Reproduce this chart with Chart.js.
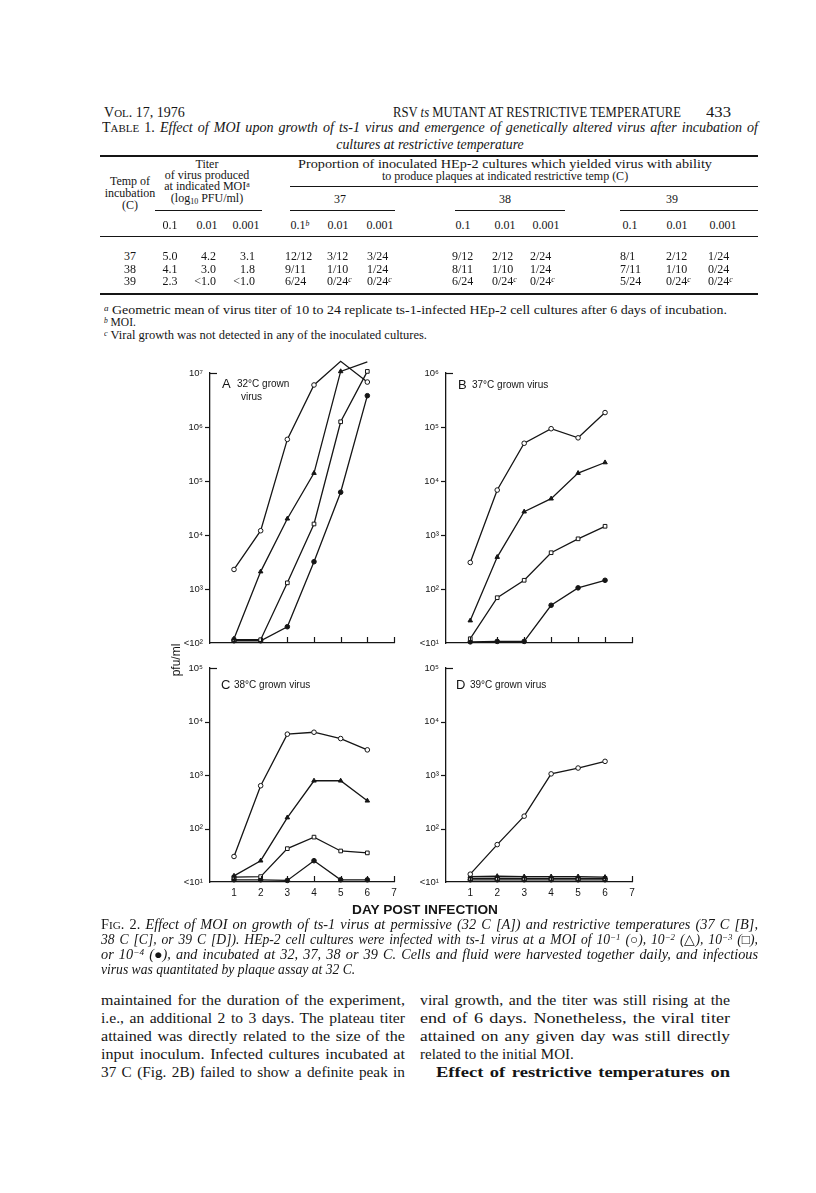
<!DOCTYPE html>
<html><head><meta charset="utf-8">
<script src="https://cdn.jsdelivr.net/npm/chart.js@4.4.0/dist/chart.umd.min.js"></script>
<style>
body{margin:0;width:816px;height:1193px;background:#fff;position:relative;overflow:hidden;font-family:"Liberation Serif",serif;color:#151515}
.t{position:absolute;white-space:nowrap;line-height:1;}
.s{font-family:"Liberation Sans",Arial,sans-serif}
.sc{font-size:0.78em}
.r{position:absolute;background:#151515}
.sp{font-size:0.65em;position:relative;top:-0.45em}
canvas{position:absolute}
</style></head><body>

<!-- running header -->
<div class="t" style="left:104px;top:106px;font-size:14px" data-w="81">V<span class="sc">OL</span>. 17, 1976</div>
<div class="t" style="left:393px;top:106px;font-size:14px" data-w="288">RSV <i>ts</i> MUTANT AT RESTRICTIVE TEMPERATURE</div>
<div class="t" style="left:706px;top:105px;font-size:15px" data-w="25">433</div>

<!-- table title -->
<div class="t" style="left:102px;top:121px;font-size:13.8px" data-w="656" data-j>T<span class="sc">ABLE</span> 1. <i>Effect of MOI upon growth of ts-1 virus and emergence of genetically altered virus after incubation of</i></div>
<div class="t" style="top:138px;font-size:13.8px" data-cx="430"><i>cultures at restrictive temperature</i></div>

<div class="r" style="left:100px;top:155px;width:658px;height:1.6px"></div>

<div class="t" style="top:158px;font-size:12px" data-cx="207">Titer</div>
<div class="t" style="top:169px;font-size:12px" data-cx="207">of virus produced</div>
<div class="t" style="top:180px;font-size:12px" data-cx="207">at indicated MOI<span class="sp">a</span></div>
<div class="t" style="top:192px;font-size:12px" data-cx="207">(log<span style="font-size:8px;position:relative;top:2px">10</span> PFU/ml)</div>
<div class="t" style="top:175px;font-size:12px" data-cx="130">Temp of</div>
<div class="t" style="top:187px;font-size:12px" data-cx="130">incubation</div>
<div class="t" style="top:199px;font-size:12px" data-cx="130">(C)</div>
<div class="t" style="top:158px;font-size:12px" data-cx="505" data-w="414">Proportion of inoculated HEp-2 cultures which yielded virus with ability</div>
<div class="t" style="top:170px;font-size:12px" data-cx="505">to produce plaques at indicated restrictive temp (C)</div>
<div class="r" style="left:290px;top:186px;width:468px;height:1px"></div>
<div class="t" style="top:193px;font-size:12px" data-cx="340">37</div>
<div class="t" style="top:193px;font-size:12px" data-cx="505">38</div>
<div class="t" style="top:193px;font-size:12px" data-cx="672">39</div>
<div class="r" style="left:155px;top:210px;width:107px;height:1px"></div>
<div class="r" style="left:290px;top:210px;width:105px;height:1px"></div>
<div class="r" style="left:455px;top:210px;width:110px;height:1px"></div>
<div class="r" style="left:620px;top:210px;width:138px;height:1px"></div>

<div class="r" style="left:100px;top:236px;width:658px;height:1.2px"></div>
<div class="r" style="left:100px;top:293px;width:658px;height:1.6px"></div>

<div class="t" style="left:104px;top:305px;font-size:11.5px" data-w="623"><span class="sp"><i>a</i></span> Geometric mean of virus titer of 10 to 24 replicate ts-1-infected HEp-2 cell cultures after 6 days of incubation.</div>
<div class="t" style="left:104px;top:317px;font-size:11.5px"><span class="sp"><i>b</i></span> MOI.</div>
<div class="t" style="left:104px;top:330px;font-size:11.5px" data-w="323"><span class="sp"><i>c</i></span> Viral growth was not detected in any of the inoculated cultures.</div>

<!-- figure -->
<canvas id="cA" width="260" height="315" style="left:150px;top:345px"></canvas>
<canvas id="cB" width="260" height="315" style="left:386px;top:345px"></canvas>
<canvas id="cC" width="260" height="260" style="left:150px;top:650px"></canvas>
<canvas id="cD" width="260" height="260" style="left:386px;top:650px"></canvas>

<div class="t s" style="left:222px;top:377px;font-size:13px">A</div>
<div class="t s" style="left:237px;top:379px;font-size:10px">32°C grown</div>
<div class="t s" style="left:241px;top:392px;font-size:10px">virus</div>
<div class="t s" style="left:458px;top:378px;font-size:13px">B</div>
<div class="t s" style="left:472px;top:380px;font-size:10px">37°C grown virus</div>
<div class="t s" style="left:221px;top:678px;font-size:13px">C</div>
<div class="t s" style="left:234px;top:680px;font-size:10px">38°C grown virus</div>
<div class="t s" style="left:456px;top:678px;font-size:13px">D</div>
<div class="t s" style="left:470px;top:680px;font-size:10px">39°C grown virus</div>

<div class="t s" style="left:156px;top:654px;font-size:12px;width:40px;text-align:center;transform:rotate(-90deg)" data-rot>pfu/ml</div>
<div class="t s" style="top:903px;font-size:13px;font-weight:bold" data-cx="425" data-w="146">DAY POST INFECTION</div>

<!-- caption -->
<div class="t" style="left:101px;top:918px;font-size:13.6px" data-w="657" data-j>F<span class="sc">IG</span>. 2. <i>Effect of MOI on growth of ts-1 virus at permissive (32 C [A]) and restrictive temperatures (37 C [B],</i></div>
<div class="t" style="left:101px;top:933px;font-size:13.6px" data-w="657" data-j><i>38 C [C], or 39 C [D]). HEp-2 cell cultures were infected with ts-1 virus at a MOI of 10<span class="sp">−1</span> (</i>○<i>), 10<span class="sp">−2</span> (</i>△<i>), 10<span class="sp">−3</span> (</i>□<i>),</i></div>
<div class="t" style="left:101px;top:948px;font-size:13.6px" data-w="657" data-j><i>or 10<span class="sp">−4</span> (</i>●<i>), and incubated at 32, 37, 38 or 39 C. Cells and fluid were harvested together daily, and infectious</i></div>
<div class="t" style="left:101px;top:963px;font-size:13.6px"><i>virus was quantitated by plaque assay at 32 C.</i></div>

<!-- body text -->
<div class="t" style="left:101px;top:993px;font-size:15px" data-w="304" data-j>maintained for the duration of the experiment,</div>
<div class="t" style="left:101px;top:1011px;font-size:15px" data-w="304" data-j>i.e., an additional 2 to 3 days. The plateau titer</div>
<div class="t" style="left:101px;top:1029px;font-size:15px" data-w="304" data-j>attained was directly related to the size of the</div>
<div class="t" style="left:101px;top:1047px;font-size:15px" data-w="304" data-j>input inoculum. Infected cultures incubated at</div>
<div class="t" style="left:101px;top:1065px;font-size:15px" data-w="304" data-j>37 C (Fig. 2B) failed to show a definite peak in</div>
<div class="t" style="left:420px;top:993px;font-size:15px" data-w="310" data-j>viral growth, and the titer was still rising at the</div>
<div class="t" style="left:420px;top:1011px;font-size:15px" data-w="310" data-j>end of 6 days. Nonetheless, the viral titer</div>
<div class="t" style="left:420px;top:1029px;font-size:15px" data-w="310" data-j>attained on any given day was still directly</div>
<div class="t" style="left:420px;top:1047px;font-size:15px">related to the initial MOI.</div>
<div class="t" style="left:436px;top:1065px;font-size:15px;font-weight:bold" data-w="294" data-j>Effect of restrictive temperatures on</div>

<script>
// ---------- table data ----------
const colHeads = ['0.1','0.01','0.001','0.1','0.01','0.001','0.1','0.01','0.001','0.1','0.01','0.001'];
const colHeadX = [170,207,246,300,338,380,463,505,546,630,677,723];
const incubTemps = ['37','38','39'];
const titer01 = ['5.0','4.1','2.3'];
const titer001 = ['4.2','3.0','<1.0'];
const titer0001 = ['3.1','1.8','<1.0'];
const p37 = [['12/12','3/12','3/24'],['9/11','1/10','1/24'],['6/24','0/24c','0/24c']];
const p38 = [['9/12','2/12','2/24'],['8/11','1/10','1/24'],['6/24','0/24c','0/24c']];
const p39 = [['8/1','2/12','1/24'],['7/11','1/10','0/24'],['5/24','0/24c','0/24c']];

// ---------- figure data (pfu/ml) ----------
const days = [1,2,3,4,5,6];
const xTickDays = [1,2,3,4,5,6,7];
// A: 32°C grown virus
const A_moi1 = [2.3e3, 1.2e4, 5.9e5, 6.0e6, 1.65e7, 6.8e6];
const A_moi2 = [1.2e2, 2.1e3, 2.0e4, 1.4e5, 1.07e7, 1.6e7];
const A_moi3 = [1.15e2, 1.15e2, 1.3e3, 1.6e4, 1.25e6, 1.07e7];
const A_moi4 = [1.1e2, 1.1e2, 2.0e2, 3.2e3, 6.2e4, 3.8e6];
// B: 37°C grown virus
const B_moi1 = [3.1e2, 6.8e3, 5.0e4, 9.3e4, 6.3e4, 1.85e5];
const B_moi2 = [26, 3.9e2, 2.7e3, 4.7e3, 1.4e4, 2.2e4];
const B_moi3 = [12, 69, 1.45e2, 4.7e2, 8.5e2, 1.45e3];
const B_moi4 = [10.5, 10.7, 10.7, 50, 1.05e2, 1.45e2];
// C: 38°C grown virus
const C_moi1 = [30, 6.3e2, 5.8e3, 6.3e3, 4.8e3, 2.95e3];
const C_moi2 = [13, 25, 1.6e2, 7.8e2, 7.8e2, 3.3e2];
const C_moi3 = [12.3, 12.6, 42, 69, 38, 35];
const C_moi4 = [11, 11, 10.7, 25, 11, 11];
// D: 39°C grown virus
const D_moi1 = [14, 50, 1.7e2, 1.05e3, 1.35e3, 1.8e3];
const D_moi2 = [12.6, 12.8, 12.6, 12.6, 12.6, 12.3];
const D_moi3 = [11.7, 11.7, 11.7, 11.7, 11.7, 11.7];
const D_moi4 = [11, 11, 11, 11, 11, 11];

const yTicks_A = [1e2,1e3,1e4,1e5,1e6,1e7];
const yLabels_A = ['<10²','10³','10⁴','10⁵','10⁶','10⁷'];
const yTicks_B = [1e1,1e2,1e3,1e4,1e5,1e6];
const yLabels_B = ['<10¹','10²','10³','10⁴','10⁵','10⁶'];
const yTicks_CD = [1e1,1e2,1e3,1e4,1e5];
const yLabels_CD = ['<10¹','10²','10³','10⁴','10⁵'];

// ---------- build table ----------
function addText(html, opts){
  const d=document.createElement('div'); d.className='t'; d.innerHTML=html;
  d.style.fontSize=(opts.fs||12)+'px'; d.style.top=opts.top+'px';
  if(opts.left!==undefined) d.style.left=opts.left+'px';
  if(opts.cx!==undefined) d.dataset.cx=opts.cx;
  if(opts.rx!==undefined) d.dataset.rx=opts.rx;
  document.body.appendChild(d);
}
const fmt = s => s.endsWith('c') ? s.slice(0,-1)+'<span class="sp"><i>c</i></span>' : s;
colHeads.forEach((h,i)=> addText(h + (i===3?'<span class="sp"><i>b</i></span>':''), {top:219, cx:colHeadX[i]}));
const rowY=[250,262.5,275];
incubTemps.forEach((t,i)=>{
  const y=rowY[i];
  addText(t,{top:y,cx:130});
  addText(titer01[i],{top:y,cx:170});
  addText(titer001[i],{top:y,rx:216});
  addText(titer0001[i],{top:y,rx:255});
  [285,327,367].forEach((x,j)=>addText(fmt(p37[i][j]),{top:y,left:x}));
  [452,492,530].forEach((x,j)=>addText(fmt(p38[i][j]),{top:y,left:x}));
  [620,666,708].forEach((x,j)=>addText(fmt(p39[i][j]),{top:y,left:x}));
});

// ---------- fit text ----------
function fit(){
  document.querySelectorAll('.t').forEach(el=>{
    if(el.dataset.rot!==undefined) return;
    let w=el.getBoundingClientRect().width;
    if(el.dataset.w){
      const W=+el.dataset.w;
      const n=(el.textContent.match(/ /g)||[]).length;
      if(el.dataset.j!==undefined && w<W && n){
        el.style.wordSpacing=Math.min((W-w)/n, 1.5)+'px';
        w=el.getBoundingClientRect().width;
      }
      if(Math.abs(w-W)>0.5){
        el.style.transformOrigin='0 50%';
        el.style.transform='scaleX('+(W/w)+')';
      }
      w=W;
    }
    if(el.dataset.cx) el.style.left=(+el.dataset.cx - w/2)+'px';
    if(el.dataset.rx) el.style.left=(+el.dataset.rx - w)+'px';
  });
}
fit();

// ---------- charts ----------
const INK='#151515';
const styles=[
  {pointStyle:'circle', pointBackgroundColor:'#fff', pointRadius:2.3},
  {pointStyle:'triangle', pointBackgroundColor:INK, pointRadius:2.6},
  {pointStyle:'rect', pointBackgroundColor:'#fff', pointRadius:2.6},
  {pointStyle:'circle', pointBackgroundColor:INK, pointRadius:2.3}
];
const inTicks={id:'inTicks', afterDraw(chart){
  const {ctx, scales:{x,y}, chartArea:a}=chart;
  ctx.save(); ctx.strokeStyle=INK; ctx.lineWidth=1.2;
  x.ticks.forEach(t=>{const px=Math.round(x.getPixelForValue(t.value))+0.5; ctx.beginPath(); ctx.moveTo(px,a.bottom); ctx.lineTo(px,a.bottom-6); ctx.stroke();});
  y.ticks.forEach((t,i)=>{
    const py=Math.round(y.getPixelForValue(t.value))+0.5;
    ctx.beginPath();
    if(i===y.ticks.length-1){ ctx.moveTo(a.left,py); ctx.lineTo(a.left+7,py); }
    else if(i>0){ ctx.moveTo(a.left,py); ctx.lineTo(a.left-5,py); }
    ctx.stroke();
  });
  ctx.restore();
}};
function makeChart(id, series, yTicks, yLabels, showX, g){
  new Chart(document.getElementById(id), {
    type:'line',
    data:{labels:days, datasets: series.map((s,i)=>Object.assign({
      data: days.map((d,k)=>({x:d,y:s[k]})),
      borderColor:INK, borderWidth:1.3, pointBorderColor:INK, pointBorderWidth:1,
      tension:0, clip:false, fill:false
    }, styles[i]))},
    options:{
      responsive:false, animation:false, devicePixelRatio:1,
      layout:{padding:{left:0, top:g.top, right:g.right, bottom:0}},
      plugins:{legend:{display:false}, tooltip:{enabled:false}},
      scales:{
        x:{type:'linear', min:0.1, max:7,
          grid:{display:false, drawTicks:false},
          border:{display:true, color:INK, width:1.3},
          ticks:{display:showX, color:INK, padding:5, font:{family:'Liberation Sans', size:10}},
          afterBuildTicks:s=>{s.ticks=xTickDays.map(v=>({value:v}));},
          afterFit:s=>{s.height=g.xh;}},
        y:{type:'logarithmic', min:yTicks[0], max:yTicks[yTicks.length-1],
          grid:{display:false, drawTicks:false},
          border:{display:true, color:INK, width:1.3},
          ticks:{color:INK, padding:7, font:{family:'Liberation Sans', size:9.5},
            callback:(v,i)=>yLabels[i]},
          afterBuildTicks:s=>{s.ticks=yTicks.map(v=>({value:v}));},
          afterFit:s=>{s.width=60;}}
      }
    },
    plugins:[inTicks]
  });
}
makeChart('cA',[A_moi1,A_moi2,A_moi3,A_moi4],yTicks_A,yLabels_A,false,{top:28,right:16,xh:17});
makeChart('cB',[B_moi1,B_moi2,B_moi3,B_moi4],yTicks_B,yLabels_B,false,{top:28,right:14,xh:17});
makeChart('cC',[C_moi1,C_moi2,C_moi3,C_moi4],yTicks_CD,yLabels_CD,true,{top:18,right:16,xh:28});
makeChart('cD',[D_moi1,D_moi2,D_moi3,D_moi4],yTicks_CD,yLabels_CD,true,{top:18,right:14,xh:28});
</script>
</body></html>
